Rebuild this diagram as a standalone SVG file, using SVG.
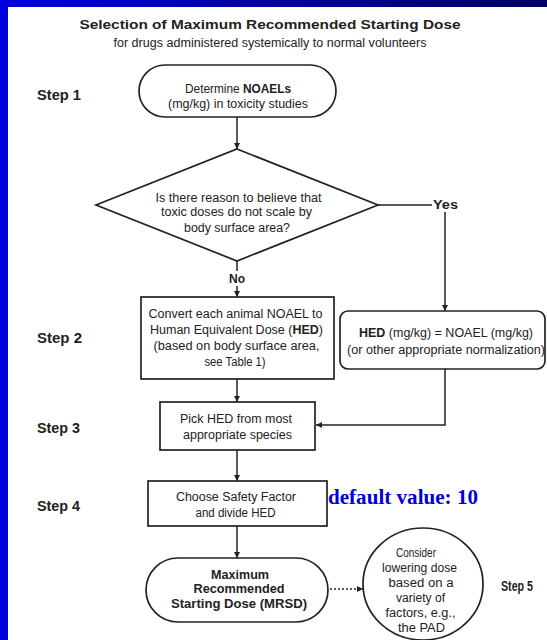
<svg xmlns="http://www.w3.org/2000/svg" width="547" height="640" viewBox="0 0 547 640">
<defs>
<linearGradient id="band" x1="0" y1="0" x2="1" y2="0">
<stop offset="0" stop-color="#0000dc"/>
<stop offset="1" stop-color="#000066"/>
</linearGradient>
<marker id="ah" viewBox="0 0 10 10" refX="10" refY="5" markerWidth="6" markerHeight="6" markerUnits="userSpaceOnUse" orient="auto">
<path d="M0,0 L10,5 L0,10 z" fill="#222"/>
</marker>
<style>
.t{font-family:"Liberation Sans",Arial,sans-serif;font-size:12px;fill:#222;text-anchor:middle}
.s{font-family:"Liberation Sans",Arial,sans-serif;font-size:14px;font-weight:bold;fill:#222}
.b{font-weight:bold}
.box{fill:#fff;stroke:#222;stroke-width:1.7}
.ln{stroke:#222;stroke-width:1.5;fill:none}
</style>
</defs>
<rect x="0" y="0" width="547" height="640" fill="#fff"/>
<rect x="0" y="0" width="547" height="7" fill="url(#band)"/>
<rect x="0" y="0" width="8" height="640" fill="#0000dc"/>

<g id="title">
<text class="t b" x="270" y="28.5" font-size="15" textLength="381" lengthAdjust="spacingAndGlyphs">Selection of Maximum Recommended Starting Dose</text>
<text class="t" x="270" y="46.5" font-size="11.5" textLength="313" lengthAdjust="spacingAndGlyphs">for drugs administered systemically to normal volunteers</text>
</g>

<g id="steps">
<text class="s" x="37" y="100" textLength="44" lengthAdjust="spacingAndGlyphs">Step 1</text>
<text class="s" x="37" y="343" textLength="45" lengthAdjust="spacingAndGlyphs">Step 2</text>
<text class="s" x="37" y="433" textLength="43" lengthAdjust="spacingAndGlyphs">Step 3</text>
<text class="s" x="37" y="511" textLength="43" lengthAdjust="spacingAndGlyphs">Step 4</text>
<text class="s" x="501" y="591" font-size="11" textLength="32" lengthAdjust="spacingAndGlyphs">Step 5</text>
</g>

<g id="connectors">
<line class="ln" x1="237" y1="117" x2="237" y2="149" marker-end="url(#ah)"/>
<line class="ln" x1="378" y1="205" x2="432" y2="205"/>
<line class="ln" x1="445" y1="212" x2="445" y2="311" marker-end="url(#ah)"/>
<line class="ln" x1="237" y1="261" x2="237" y2="271"/>
<line class="ln" x1="237" y1="286" x2="237" y2="297" marker-end="url(#ah)"/>
<line class="ln" x1="237" y1="379" x2="237" y2="402" marker-end="url(#ah)"/>
<polyline class="ln" points="445,369 445,425 316,425" marker-end="url(#ah)"/>
<line class="ln" x1="237" y1="450" x2="237" y2="481" marker-end="url(#ah)"/>
<line class="ln" x1="237" y1="526" x2="237" y2="558" marker-end="url(#ah)"/>
<line class="ln" x1="330" y1="589" x2="363" y2="589" stroke-dasharray="2,2" marker-end="url(#ah)"/>
<text class="t b" x="445.5" y="209" textLength="25" lengthAdjust="spacingAndGlyphs">Yes</text>
<text class="t b" x="237" y="282.5" textLength="16" lengthAdjust="spacingAndGlyphs">No</text>
</g>

<g id="n1">
<rect class="box" x="139" y="65" width="197" height="52" rx="26"/>
<text class="t" x="238" y="93" textLength="106" lengthAdjust="spacingAndGlyphs">Determine <tspan class="b">NOAELs</tspan></text>
<text class="t" x="238" y="107.5" textLength="140" lengthAdjust="spacingAndGlyphs">(mg/kg) in toxicity studies</text>
</g>

<g id="decision">
<polygon class="box" points="237,149 378,205 237,261 96,205"/>
<text class="t" x="238.5" y="201.5" textLength="166" lengthAdjust="spacingAndGlyphs">Is there reason to believe that</text>
<text class="t" x="236.5" y="216" textLength="151" lengthAdjust="spacingAndGlyphs">toxic doses do not scale by</text>
<text class="t" x="237" y="231.5" textLength="106" lengthAdjust="spacingAndGlyphs">body surface area?</text>
</g>

<g id="convert">
<rect class="box" x="141" y="297" width="193" height="82"/>
<text class="t" x="235.5" y="317.5" textLength="174" lengthAdjust="spacingAndGlyphs">Convert each animal NOAEL to</text>
<text class="t" x="236.5" y="333.5" textLength="173" lengthAdjust="spacingAndGlyphs">Human Equivalent Dose (<tspan class="b">HED</tspan>)</text>
<text class="t" x="236.5" y="350" textLength="166" lengthAdjust="spacingAndGlyphs">(based on body surface area,</text>
<text class="t" x="235" y="366" textLength="61" lengthAdjust="spacingAndGlyphs">see Table 1)</text>
</g>

<g id="hed">
<rect class="box" x="340" y="311" width="205" height="58" rx="8"/>
<text class="t" x="446" y="336.5" textLength="174" lengthAdjust="spacingAndGlyphs"><tspan class="b">HED</tspan> (mg/kg) = NOAEL (mg/kg)</text>
<text class="t" x="446" y="353.5" textLength="198" lengthAdjust="spacingAndGlyphs">(or other appropriate normalization)</text>
</g>

<g id="pick">
<rect class="box" x="160" y="402" width="155" height="48"/>
<text class="t" x="236" y="422.5" textLength="112" lengthAdjust="spacingAndGlyphs">Pick HED from most</text>
<text class="t" x="237.5" y="438.5" textLength="109" lengthAdjust="spacingAndGlyphs">appropriate species</text>
</g>

<g id="choose">
<rect class="box" x="148" y="481" width="179" height="45"/>
<text class="t" x="236" y="500.5" textLength="120" lengthAdjust="spacingAndGlyphs">Choose Safety Factor</text>
<text class="t" x="235.5" y="516.5" textLength="80" lengthAdjust="spacingAndGlyphs">and divide HED</text>
<text x="328" y="504" font-family="'Liberation Serif','Times New Roman',serif" font-size="20" font-weight="bold" fill="#0000dc" textLength="150" lengthAdjust="spacingAndGlyphs">default value: 10</text>
</g>

<g id="mrsd">
<rect class="box" x="146" y="558" width="182" height="64" rx="32" stroke-width="2.2"/>
<text class="t b" x="240" y="579" font-size="11.5" textLength="58" lengthAdjust="spacingAndGlyphs">Maximum</text>
<text class="t b" x="239" y="593" font-size="11.5" textLength="91" lengthAdjust="spacingAndGlyphs">Recommended</text>
<text class="t b" x="239" y="608" font-size="11.5" textLength="136" lengthAdjust="spacingAndGlyphs">Starting Dose  (MRSD)</text>
</g>

<g id="consider">
<ellipse class="box" cx="423" cy="584" rx="60" ry="56"/>
<text class="t" x="416" y="557" font-size="11" textLength="40" lengthAdjust="spacingAndGlyphs">Consider</text>
<text class="t" x="419.5" y="572" font-size="11" textLength="75" lengthAdjust="spacingAndGlyphs">lowering dose</text>
<text class="t" x="421" y="587" font-size="11" textLength="65" lengthAdjust="spacingAndGlyphs">based on a</text>
<text class="t" x="420.5" y="602" font-size="11" textLength="49" lengthAdjust="spacingAndGlyphs">variety of</text>
<text class="t" x="420.5" y="617" font-size="11" textLength="70" lengthAdjust="spacingAndGlyphs">factors, e.g.,</text>
<text class="t" x="421.5" y="632" font-size="11" textLength="47" lengthAdjust="spacingAndGlyphs">the PAD</text>
</g>
</svg>
